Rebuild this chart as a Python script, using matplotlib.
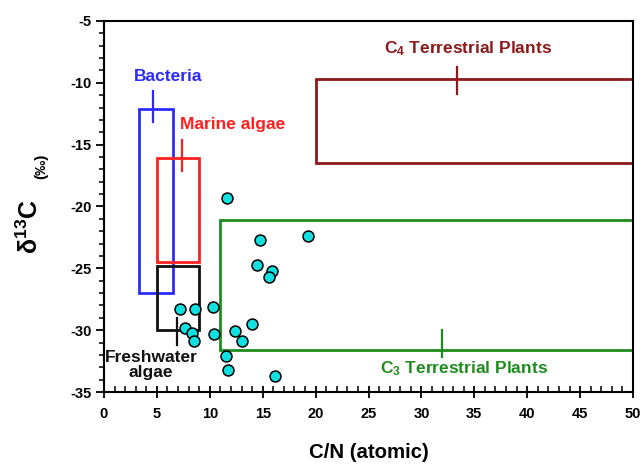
import matplotlib
matplotlib.use("Agg")
import matplotlib.pyplot as plt
from matplotlib.patches import Rectangle
from matplotlib.ticker import MultipleLocator

plt.rcParams['font.family'] = ['Liberation Sans', 'DejaVu Sans']
plt.rcParams['font.weight'] = 'bold'
plt.rcParams['axes.unicode_minus'] = False
plt.rcParams['mathtext.fontset'] = 'custom'
plt.rcParams['mathtext.rm'] = 'Liberation Sans:bold'
plt.rcParams['mathtext.it'] = 'Liberation Sans:bold'
plt.rcParams['mathtext.bf'] = 'Liberation Sans:bold'
plt.rcParams['mathtext.default'] = 'bf'

# Sample data: C/N (atomic) and delta13C
cn_values = [11.6, 14.7, 19.3, 14.5, 15.9, 15.6, 7.2, 8.6, 10.3, 7.7, 8.3, 8.5,
             10.4, 12.4, 13.0, 14.0, 11.5, 11.7, 16.2]
d13c_values = [-19.3, -22.7, -22.4, -24.7, -25.2, -25.7, -28.3, -28.3, -28.1, -29.8,
               -30.2, -30.9, -30.3, -30.1, -30.9, -29.5, -32.1, -33.2, -33.7]

# Source boxes: (name, cn_min, cn_max, d13c_min, d13c_max)
box_names = ['Bacteria', 'Marine algae', 'Freshwater algae', 'C4', 'C3']
box_cn_min = [3.3, 5.0, 5.0, 20.0, 11.0]
box_cn_max = [6.5, 9.0, 9.0, 50.0, 50.0]
box_d_min = [-27.0, -24.5, -30.0, -16.5, -31.6]
box_d_max = [-12.1, -16.1, -24.8, -9.7, -21.1]
box_colors = ['#2b2bff', '#ff1f1f', '#111111', '#8c1a1a', '#1f8c1f']

# label texts and their positions / leader lines
label_texts = ['Bacteria', 'Marine algae', 'Freshwater\nalgae',
               'C$_4$ Terrestrial Plants', 'C$_3$ Terrestrial Plants']
label_x = [6.05, 12.2, 4.45, 34.4, 34.0]
label_y = [-9.45, -13.4, -32.85, -7.2, -33.1]
leader_x = [4.6, 7.4, 6.9, 33.4, 31.9]
leader_y0 = [-10.7, -14.6, -29.0, -8.7, -30.0]
leader_y1 = [-13.2, -17.1, -31.2, -10.9, -32.2]

fig = plt.figure(figsize=(6.44, 4.70), dpi=100)
ax = fig.add_axes([104/644, 1-392/470, (633-104)/644, (392-21)/470])

for i in range(len(box_names)):
    ax.add_patch(Rectangle((box_cn_min[i], box_d_min[i]),
                           box_cn_max[i]-box_cn_min[i], box_d_max[i]-box_d_min[i],
                           fill=False, edgecolor=box_colors[i], linewidth=2.0, zorder=2))
    ax.plot([leader_x[i], leader_x[i]], [leader_y0[i], leader_y1[i]],
            color=box_colors[i], lw=1.6, zorder=2)
    ax.text(label_x[i], label_y[i], label_texts[i], color=box_colors[i],
            ha='center', va='center', fontsize=12.5, fontweight='bold',
            linespacing=1.0, zorder=3)

ax.scatter(cn_values, d13c_values, s=62, facecolor='#10e0e0', edgecolor='black',
           linewidth=1.1, zorder=4, clip_on=False)

ax.set_xlim(0, 50)
ax.set_ylim(-35, -5)
ax.xaxis.set_major_locator(MultipleLocator(5))
ax.xaxis.set_minor_locator(MultipleLocator(1))
ax.yaxis.set_major_locator(MultipleLocator(5))
ax.yaxis.set_minor_locator(MultipleLocator(1))
ax.tick_params(axis='x', which='major', direction='inout', length=9, width=1.3,
               labelsize=10.5, pad=6)
ax.tick_params(axis='x', which='minor', direction='in', length=4, width=1.1)
ax.tick_params(axis='y', which='major', direction='out', length=6, width=1.3,
               labelsize=10.5, pad=3)
ax.tick_params(axis='y', which='minor', direction='out', length=3.5, width=1.1)
for lab in ax.get_xticklabels() + ax.get_yticklabels():
    lab.set_fontweight('bold')
for sp in ax.spines.values():
    sp.set_linewidth(1.5)

ax.set_xlabel('C/N (atomic)', fontsize=14.7, fontweight='bold', labelpad=16)

fig.text(30/644, 1-227/470, 'δ$^{13}$C', rotation=90, ha='center', va='center',
         fontsize=18, fontweight='bold')
fig.text(41/644, 1-166/470, '(‰)', rotation=90, ha='center', va='center',
         fontsize=11, fontweight='bold')

fig.savefig('out.png', dpi=100)
